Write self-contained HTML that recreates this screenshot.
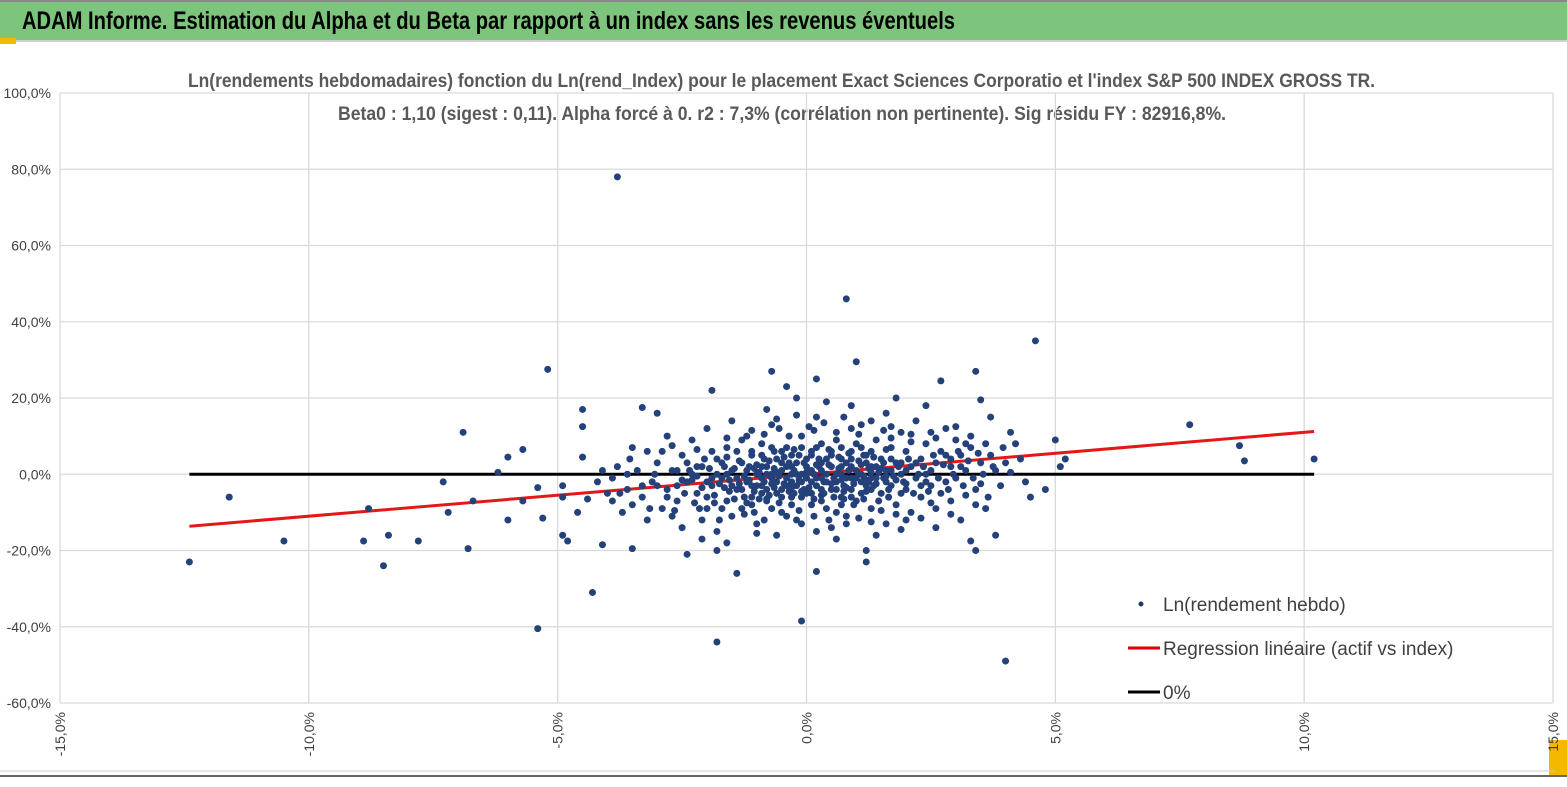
<!DOCTYPE html>
<html><head><meta charset="utf-8">
<style>
body{margin:0;background:#fff;width:1567px;height:787px;overflow:hidden;font-family:"Liberation Sans",Arial,sans-serif}
svg{display:block}
</style></head><body>
<svg id="chart" width="1567" height="787" viewBox="0 0 1567 787" xmlns="http://www.w3.org/2000/svg">
<rect x="0" y="0" width="1567" height="787" fill="#fff"/>
<rect x="0" y="0" width="1567" height="40" fill="#7dc57d"/>
<line x1="0" y1="41" x2="1567" y2="41" stroke="#d0d0d0" stroke-width="2"/>
<rect x="0" y="38" width="16" height="6" fill="#f5b800"/>
<rect x="1549" y="740" width="18" height="36" fill="#f5b800"/>
<rect x="0" y="0" width="1567" height="2" fill="#888"/>
<line x1="0" y1="776" x2="1567" y2="776" stroke="#666" stroke-width="2"/>
<line x1="0" y1="771" x2="1555" y2="771" stroke="#ccc" stroke-width="1"/>
<text x="22" y="29" font-size="25" font-weight="bold" fill="#000" textLength="933" lengthAdjust="spacingAndGlyphs">ADAM Informe. Estimation du Alpha et du Beta par rapport à un index sans les revenus éventuels</text>
<text x="188" y="87" font-size="19" font-weight="bold" fill="#595959" textLength="1187" lengthAdjust="spacingAndGlyphs">Ln(rendements hebdomadaires) fonction du Ln(rend_Index) pour le placement Exact Sciences Corporatio et l'index S&amp;P 500 INDEX GROSS TR.</text>
<text x="338" y="120" font-size="19" font-weight="bold" fill="#595959" textLength="888" lengthAdjust="spacingAndGlyphs">Beta0 : 1,10 (sigest : 0,11). Alpha forcé à 0. r2 : 7,3% (corrélation non pertinente). Sig résidu FY : 82916,8%.</text>
<g id="grid"></g>
<g id="lines"></g>
<g id="dots"></g>
<g id="axes"></g>
<g>
<circle cx="1141" cy="604" r="2.5" fill="#1f3864"/>
<text x="1163" y="611" font-size="19" fill="#404040">Ln(rendement hebdo)</text>
<line x1="1128" y1="648" x2="1160" y2="648" stroke="#e00000" stroke-width="3"/>
<text x="1163" y="655" font-size="19" fill="#404040">Regression linéaire (actif vs index)</text>
<line x1="1128" y1="692" x2="1160" y2="692" stroke="#000" stroke-width="3"/>
<text x="1163" y="699" font-size="19" fill="#404040">0%</text>
</g>
</svg>
<script>
const xTicks=[-15,-10,-5,0,5,10,15];
const yTicks=[100,80,60,40,20,0,-20,-40,-60];
const beta=1.10;
const lineRange=[-12.4,10.2];
const points=[
[-12.4,-23],[-11.6,-6],[-10.5,-17.5],[-8.9,-17.5],[-8.8,-9],[-8.5,-24],[-8.4,-16],[-7.8,-17.5],[-7.2,-10],[-7.3,-2],[-6.9,11],[-6.8,-19.5],[-6.7,-7],[-6.2,0.5],[-6,-12],[-6,4.5],[-5.7,-7],[-5.7,6.5],[-5.3,-11.5],[-5.4,-3.5],[-5.4,-40.5],[-5.2,27.5],[-4.9,-6],[-4.9,-16],[-4.8,-17.5],[-4.9,-3],[-4.5,17],[-4.5,12.5],[-4.5,4.5],[-4.3,-31],[-4.1,-18.5],[-3.8,78],[-3.7,-10],[-3.5,-19.5],[-3.3,17.5],[-3.2,6],[-3,16],[-2.4,-21],[-2.1,-12],[-1.9,22],[-1.8,-20],[-1.8,-44],[-1.6,-18],[-1.4,-26],[-0.7,27],[-0.1,-38.5],[0.2,25],[0.2,-25.5],[0.8,46],[1,29.5],[1.2,-20],[1.2,-23],[2.7,24.5],[2.4,18],[3.3,-17.5],[3.4,-20],[3.4,27],[3.5,19.5],[3.8,-16],[4,-49],[4.1,11],[4.5,-6],[4.6,35],[4.8,-4],[5,9],[5.1,2],[5.2,4],[7.7,13],[8.7,7.5],[8.8,3.5],[10.2,4],[1.8,20],[-0.4,23],[2,-12],[3.7,15],
[-4.2,-2],[-4,-5],[-3.9,-1],[-3.8,2],[-3.6,-4],[-3.5,-8],[-3.4,1],[-3.3,-6],[-3.2,-12],[-3.1,-2],[-3,3],[-2.9,-9],[-2.8,-4],[-2.7,1],[-2.6,-7],[-2.5,5],[-2.5,-14],[-2.4,-2],[-2.3,9],[-2.2,-5],[-2.1,2],[-2,-9],[-2,12],[-1.9,-3],[-1.8,4],[-1.8,-15],[-1.7,-1],[-1.6,7],[-1.6,-7],[-1.5,-11],[-1.5,1],[-1.4,-4],[-1.3,3],[-1.3,-9],[-1.2,10],[-1.2,-2],[-1.1,-6],[-1.1,5],[-1,0],[-1,-13],[-0.9,-3],[-0.9,8],[-0.8,-7],[-0.8,2],[-0.7,-1],[-0.7,13],[-0.6,-5],[-0.6,4],[-0.5,-10],[-0.5,1],[-0.4,-3],[-0.4,7],[-0.3,-6],[-0.3,0],[-0.2,3],[-0.2,-12],[-0.1,-2],[-0.1,10],[0,-5],[0,2],[0.1,-8],[0.1,5],[0.2,-1],[0.2,15],[0.3,-4],[0.3,3],[0.4,-9],[0.4,0],[0.5,6],[0.5,-14],[0.6,-2],[0.6,11],[0.7,-6],[0.7,2],[0.8,-1],[0.8,-11],[0.9,4],[0.9,-4],[1,8],[1,-7],[1.1,0],[1.1,13],[1.2,-3],[1.2,5],[1.3,-9],[1.3,2],[1.4,-1],[1.4,9],[1.5,-5],[1.5,4],[1.6,-13],[1.6,1],[1.7,7],[1.7,-3],[1.8,3],[1.8,-8],[1.9,11],[1.9,0],[2,-4],[2,6],[2.1,2],[2.1,-10],[2.2,14],[2.2,-1],[2.3,4],[2.3,-6],[2.4,8],[2.4,0],[2.5,-3],[2.5,11],[2.6,3],[2.6,-9],[2.7,6],[2.8,-2],[2.8,12],[2.9,2],[2.9,-7],[3,9],[3,-1],[3.1,5],[3.1,-12],[3.2,1],[3.3,7],[3.4,-4],[3.5,3],[3.6,-9],[3.7,5],[3.8,1],[4,3],[4.2,8],[4.4,-2],
[-1.4,-1],[-1.2,1],[-1,-3],[-0.9,2],[-0.8,-4],[-0.7,0],[-0.6,-2],[-0.5,3],[-0.4,-1],[-0.3,2],[-0.2,-3],[-0.1,0],[0,-1],[0,4],[0.1,1],[0.2,-3],[0.3,1],[0.4,-2],[0.5,2],[0.6,-4],[0.7,0],[0.8,3],[0.9,-1],[1,1],[1.1,-2],[1.2,3],[1.3,-1],[1.4,2],[-1.1,-8],[-0.9,-5],[-0.7,-9],[-0.5,-6],[-0.3,-8],[-0.1,-6],[0.1,-5],[0.3,-7],[0.5,-4],[0.7,-8],[0.9,-6],[1.1,-5],[1.3,-4],[-1.1,6],[-0.9,5],[-0.7,7],[-0.5,6],[-0.3,5],[-0.1,7],[0.1,6],[0.3,8],[0.5,5],[0.7,7],[0.9,6],[1.1,7],[1.3,6],[-2.6,-3],[-2.3,0],[-2,-6],[-1.7,3],[-1.5,-3],[-2.2,2],[-1.9,-1],[-1.6,0],[1.6,-2],[1.9,-5],[2.2,3],[2.5,1],[2.8,5],[3.1,2],[2.3,-3],[2,1],[1.7,4],[-3.6,0],[-3,-3],[-2.7,-11],[-2.9,6],[-3.9,-7],[-4.1,1],[-0.8,17],[0.4,19],[1.6,16],[-1.5,14],[0.6,-17],[-0.6,-16],[1.4,-16],[-2.8,10],[3.3,10],[2.6,-14],[-2.1,-17],[0.9,18],[-0.2,20],
[-1.35,-2.5],[-1.25,-0.5],[-1.15,2],[-1.05,-4.5],[-0.95,0.5],[-0.85,-2],[-0.75,3.5],[-0.65,-3.5],[-0.55,-0.5],[-0.45,4.5],[-0.35,-4.5],[-0.25,1],[-0.15,-1.5],[-0.05,3],[0.05,-3.5],[0.15,0],[0.25,4],[0.35,-2],[0.45,2.5],[0.55,-1],[0.65,4.5],[0.75,-3],[0.85,1],[0.95,-2.5],[1.05,3.5],[1.15,-0.5],[1.25,1.5],[1.35,-3],[1.45,0.5],[1.55,3],[-1.35,3.5],[-1.25,-6],[-1.15,-1.5],[-1.05,1.5],[-0.95,-6.5],[-0.85,4],[-0.75,-5.5],[-0.65,1.5],[-0.55,-7.5],[-0.45,-2.5],[-0.35,3],[-0.25,-5],[-0.15,5],[-0.05,-4],[0.05,1],[0.15,-6.5],[0.25,2],[0.35,-5],[0.45,6.5],[0.55,-6],[0.65,1.5],[0.75,-4.5],[0.85,5.5],[0.95,-8],[1.05,0],[1.15,-6.5],[1.25,-2],[1.35,4.5],[1.45,-7],[1.55,-1],
[-2.3,-1.5],[-2.1,-3.5],[-1.95,1.5],[-1.85,-5.5],[-1.75,-2.5],[-1.65,2],[-1.55,-4.5],[-1.45,-6.5],[-2.05,4],[-2.25,-7.5],[-1.9,6],[-1.7,-9],[-1.6,9.5],[-2.4,3],[-2.6,1],[-2.8,-6],[-3.05,0],[-3.3,-3],[-3.55,4],[-3.75,-5],[-2.65,-9.5],[-3.15,-9],[-1.75,-12],[-1.25,-10.5],[-0.85,-12],[-0.4,-11],[0.15,-11],[0.6,-10],[1.05,-11.5],[1.5,-9.5],[-1.3,9],[-0.85,10.5],[-0.35,10],[0.15,11.5],[0.6,9],[1.05,10.5],[1.55,11.5],[-0.6,14.5],[0.35,13.5],[1.3,14],
[1.65,-4],[1.75,-0.5],[1.85,2],[1.95,-2],[2.05,4],[2.15,-5],[2.25,0],[2.35,2],[2.45,-4.5],[2.55,5],[2.65,-1],[2.75,2.5],[2.85,-4],[2.95,0],[3.05,6],[3.15,-3],[3.25,3.5],[3.35,-1],[3.45,5.5],[3.55,0],[3.65,-6],[3.75,2],[3.9,-3],[3.95,7],[4.1,0.5],[4.3,4],[1.7,9.5],[2.1,8.5],[2.6,9.5],[3.0,12.5],[3.2,8],[2.5,-7.5],[2.9,-10.5],[3.4,-8],[1.8,-10.5],[2.3,-11.5],[-2.7,7.5],[-2.2,6.5],[-3.5,7],[-1.4,6],[-1.6,4.5],[-2.45,-5],[-2.15,-9],[-1.85,-7.5],[-0.15,-9.5],[0.8,-13],[-1,-15.5],[0.2,-15],[1.9,-14.5],[-4.4,-6.5],[-4.6,-10],
[-1.3,-4],[-1.2,-7.5],[-1.1,-3],[-1,2.5],[-0.9,-1],[-0.8,0],[-0.7,-2.5],[-0.6,0.5],[-0.5,-4],[-0.4,2],[-0.3,-2],[-0.2,0],[-0.1,-4.5],[0,0.5],[0.1,-2],[0.2,2.5],[0.3,-1],[0.4,4],[0.5,-2.5],[0.6,0],[0.7,-1.5],[0.8,-3.5],[0.9,2],[1,-1],[1.1,2.5],[1.2,-1.5],[1.3,0.5],[1.4,-2.5],[1.5,1.5],[1.6,-0.5],[1.7,1],[1.8,-1.5],[1.9,3],[2,-2.5],[-1.45,1.5],[-1.55,-1.5],[-1.65,-3.5],[-1.8,0],[-2,-2],[-2.2,-0.5],[-2.35,1],[-2.5,-1.5],[-0.65,6],[-0.25,6.5],[0.2,7],[0.7,4],[1.15,5],[1.6,6.5],[-0.8,-6.5],[-0.3,-3.5],[0.3,-5.5],[0.75,-6.5],[1.2,-4.5],[1.65,-6],[-1.05,-10],[-0.1,-13],[0.45,-12],[1.3,-12.5],[-0.55,12],[0.05,12.5],[0.9,12],[1.7,12.5],[-1.1,11.5],[-0.2,15.5],[0.75,15],[2.1,10.5],[2.4,-2],[2.7,-5],[2.9,4],[3.2,-5.5],[3.5,-2.5],[3.6,8]
];
const X0=60,X1=1553,Y0=93,Y1=703;
const xs=v=>X0+(v-(-15))/30*(X1-X0);
const ys=v=>Y0+(100-v)/160*(Y1-Y0);
const NS='http://www.w3.org/2000/svg';
function mk(tag,attrs,parent){const e=document.createElementNS(NS,tag);for(const k in attrs)e.setAttribute(k,attrs[k]);document.getElementById(parent).appendChild(e);return e;}
const fmt=v=>v.toFixed(1).replace('.',',')+'%';
yTicks.forEach(t=>{
 const g=mk('line',{x1:X0,x2:X1,y1:ys(t),y2:ys(t),stroke:'#d9d9d9','stroke-width':1.3},'grid');
 
 
 const l=mk('text',{x:51,y:ys(t)+5,'text-anchor':'end','font-size':14,fill:'#404040'},'axes');
 l.textContent=fmt(t);
 
 
});
xTicks.forEach(t=>{
 const g=mk('line',{x1:xs(t),x2:xs(t),y1:Y0,y2:Y1,stroke:'#d9d9d9','stroke-width':1.3},'grid');
 
 
 const l=mk('text',{x:0,y:0,'text-anchor':'end','font-size':14,fill:'#404040',transform:`translate(${xs(t)+5},712) rotate(-90)`},'axes');
 l.textContent=fmt(t);
 
 
});
const zl=mk('line',{x1:xs(lineRange[0]),x2:xs(lineRange[1]),y1:ys(0),y2:ys(0),stroke:'#000','stroke-width':3},'lines');


points.forEach(p=>{
 const c=mk('circle',{cx:xs(p[0]),cy:ys(p[1]),r:3.5,fill:'#24417a'},'dots');
 
 
});
const rl=mk('line',{x1:xs(lineRange[0]),x2:xs(lineRange[1]),y1:ys(beta*lineRange[0]),y2:ys(beta*lineRange[1]),stroke:'#e00000','stroke-width':3,'stroke-opacity':0.9},'lines');


</script>
</body></html>
